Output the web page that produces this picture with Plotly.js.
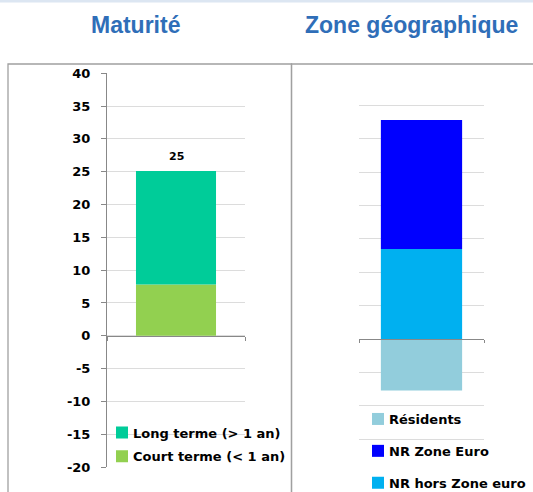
<!DOCTYPE html>
<html>
<head>
<meta charset="utf-8">
<script src="https://cdn.plot.ly/plotly-3.0.1.min.js"></script>
<style>html,body{margin:0;padding:0;background:#fff;}#chart{width:533px;height:492px;}</style>
</head>
<body>
<div id="chart"></div>
<script>
// ---- Data ----
const matCategories = ['Maturité'];
const courtTerme = [7.8];
const longTerme = [17.3];

const zoneCategories = ['Zone géographique'];
const residents = [-7.7];
const nrZoneEuro = [19.3];
const nrHorsZoneEuro = [13.5];

const yTickVals = [-20, -15, -10, -5, 0, 5, 10, 15, 20, 25, 30, 35, 40];
const yTickText = yTickVals.map(v => String(v));
const panelTitles = ['Maturité', 'Zone géographique'];
const seriesNames = {
  court: 'Court terme (< 1 an)',
  long: 'Long terme (> 1 an)',
  res: 'Résidents',
  ze: 'NR Zone Euro',
  hze: 'NR hors Zone euro'
};

// ---- Layout helpers ----
const W = 533, H = 492;
const px = v => v / W;
const py = v => 1 - v / H;
const yRange = [-20, 40];
const dom1 = [py(467), py(73.3)];
const dom2 = [py(472.7), py(72)];
const zeroPos = d => d[0] + (d[1] - d[0]) * (0 - yRange[0]) / (yRange[1] - yRange[0]);

const tickFont = {family: 'DejaVu Sans, Verdana, sans-serif', size: 13, color: '#000', weight: 'bold'};

const traces = [
  {type: 'bar', x: matCategories, y: courtTerme, name: seriesNames.court, marker: {color: '#92D050'},
   width: 0.58, xaxis: 'x', yaxis: 'y', legend: 'legend', legendgroup: 'a', legendrank: 2, hoverinfo: 'skip'},
  {type: 'bar', x: matCategories, y: longTerme, name: seriesNames.long, marker: {color: '#00CC99'},
   width: 0.58, xaxis: 'x', yaxis: 'y', legend: 'legend', legendgroup: 'b', legendrank: 1, hoverinfo: 'skip'},
  {type: 'bar', x: zoneCategories, y: nrHorsZoneEuro, name: seriesNames.hze, marker: {color: '#00B0F0'},
   width: 0.65, xaxis: 'x2', yaxis: 'y2', legend: 'legend2', legendgroup: 'c', legendrank: 3, hoverinfo: 'skip'},
  {type: 'bar', x: zoneCategories, y: nrZoneEuro, name: seriesNames.ze, marker: {color: '#0000FF'},
   width: 0.65, xaxis: 'x2', yaxis: 'y2', legend: 'legend2', legendgroup: 'd', legendrank: 2, hoverinfo: 'skip'},
  {type: 'bar', x: zoneCategories, y: residents, name: seriesNames.res, marker: {color: '#92CDDC'},
   width: 0.65, xaxis: 'x2', yaxis: 'y2', legend: 'legend2', legendgroup: 'e', legendrank: 1, hoverinfo: 'skip'}
];

const matTotal = courtTerme[0] + longTerme[0];

const layout = {
  width: W, height: H,
  margin: {l: 0, r: 0, t: 0, b: 0, autoexpand: false},
  paper_bgcolor: '#fff', plot_bgcolor: 'rgba(0,0,0,0)',
  barmode: 'relative',
  showlegend: true,
  xaxis: {domain: [px(107), px(245)], range: [-0.5, 0.5], type: 'category', anchor: 'free',
    position: zeroPos(dom1), showline: true, linecolor: '#888', linewidth: 1,
    ticks: 'outside', tickmode: 'array', tickvals: [-0.5, 0.5], ticklen: 4, tickcolor: '#888',
    showticklabels: false, showgrid: false, zeroline: false, fixedrange: true},
  yaxis: {domain: dom1, range: yRange, anchor: 'x', tickmode: 'array', tickvals: yTickVals, ticktext: yTickText,
    showline: true, linecolor: '#888', linewidth: 1, ticks: 'outside', ticklen: 5, tickcolor: '#888',
    ticklabelstandoff: 8, tickfont: tickFont, gridcolor: '#dcdcdc', gridwidth: 1, zeroline: false},
  xaxis2: {domain: [px(359), px(484)], range: [-0.5, 0.5], type: 'category', anchor: 'free',
    position: zeroPos(dom2), showline: true, linecolor: '#888', linewidth: 1,
    ticks: 'outside', tickmode: 'array', tickvals: [-0.5, 0.5], ticklen: 3, tickcolor: '#888',
    showticklabels: false, showgrid: false, zeroline: false},
  yaxis2: {domain: dom2, range: yRange, anchor: 'x2', tickmode: 'array', tickvals: yTickVals,
    showline: false, ticks: '', showticklabels: false, gridcolor: '#dcdcdc', gridwidth: 1, zeroline: false},
  legend: {x: px(93), xanchor: 'left', y: py(417.5), yanchor: 'top', bgcolor: 'rgba(0,0,0,0)',
    font: tickFont, traceorder: 'grouped', tracegroupgap: 4, borderwidth: 0},
  legend2: {x: px(349), xanchor: 'left', y: py(404), yanchor: 'top', bgcolor: 'rgba(0,0,0,0)',
    font: tickFont, traceorder: 'grouped', tracegroupgap: 12, borderwidth: 0},
  annotations: [
    {xref: 'paper', yref: 'paper', x: px(135), y: py(25), xanchor: 'center', yanchor: 'middle',
     text: panelTitles[0], showarrow: false,
     font: {family: 'Liberation Sans, Arial, sans-serif', size: 23, color: '#2F6EB8', weight: 'bold'}},
    {xref: 'paper', yref: 'paper', x: px(411), y: py(25), xanchor: 'center', yanchor: 'middle',
     text: panelTitles[1], showarrow: false,
     font: {family: 'Liberation Sans, Arial, sans-serif', size: 23, color: '#2F6EB8', weight: 'bold'}},
    {xref: 'x', yref: 'y', x: matCategories[0], y: matTotal, xanchor: 'center', yanchor: 'bottom',
     yshift: 6, text: String(Math.round(matTotal)), showarrow: false,
     font: {family: 'DejaVu Sans, Verdana, sans-serif', size: 11, color: '#000', weight: 'bold'}}
  ],
  shapes: [
    {type: 'rect', xref: 'paper', yref: 'paper', x0: -0.01, x1: 1.01, y0: py(2.5), y1: 1.01,
     fillcolor: '#DCE6F2', line: {width: 0}, layer: 'below'},
    {type: 'rect', xref: 'paper', yref: 'paper', x0: px(8), x1: px(291.5), y0: -0.05, y1: py(64),
     fillcolor: 'rgba(0,0,0,0)', line: {color: '#A0A0A0', width: 1.3}, layer: 'below'},
    {type: 'rect', xref: 'paper', yref: 'paper', x0: px(291.5), x1: 1.05, y0: -0.05, y1: py(64),
     fillcolor: 'rgba(0,0,0,0)', line: {color: '#A0A0A0', width: 1.3}, layer: 'below'}
  ]
};

Plotly.newPlot('chart', traces, layout, {displayModeBar: false, staticPlot: true}).then(gd => {
  // bring legend swatches closer to their labels, as in the reference
  gd.querySelectorAll('g.legendpoints').forEach(g => g.setAttribute('transform', 'translate(9,0)'));
});
</script>
</body>
</html>
